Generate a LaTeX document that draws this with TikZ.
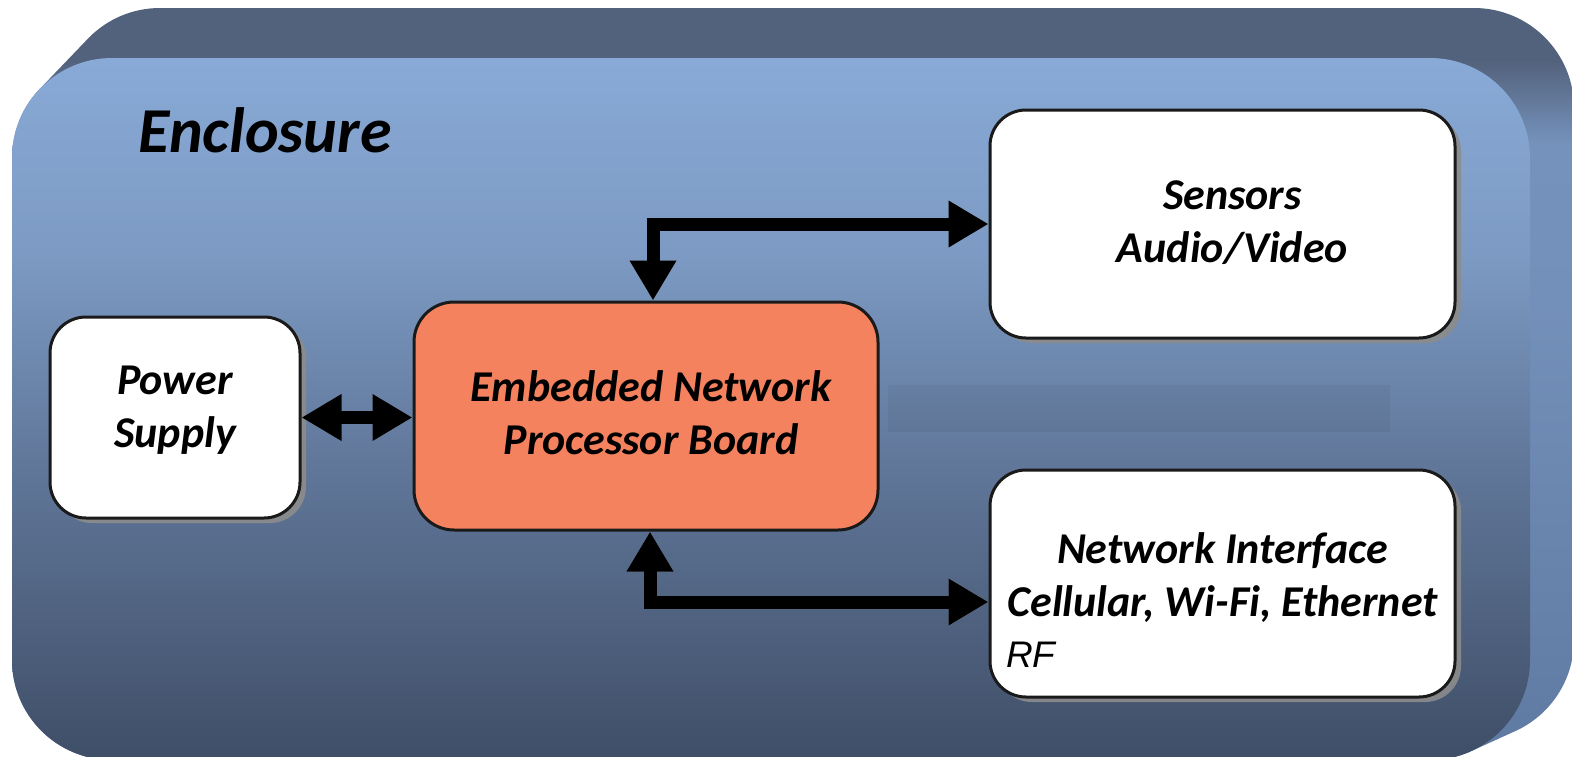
\documentclass[tikz,border=0pt]{standalone}
\usepackage{fontspec}
\setmainfont{Carlito}
\newfontfamily\arialfont{Liberation Sans}
\usetikzlibrary{arrows.meta,calc,shadows}
\definecolor{topDark}{HTML}{53627C}
\definecolor{sideTop}{HTML}{7592BC}
\definecolor{sideMid}{HTML}{7390BA}
\definecolor{sideBot}{HTML}{5F7AA2}
\definecolor{frTop}{HTML}{89AAD7}
\definecolor{frUp}{HTML}{7C9AC3}
\definecolor{frMid}{HTML}{62799C}
\definecolor{frBot}{HTML}{3F4E67}
\definecolor{salmon}{HTML}{F5825F}
\definecolor{edge}{HTML}{1A1A1A}
\pgfdeclareverticalshading{encback}{100bp}{color(0bp)=(sideBot); color(25bp)=(sideBot); color(55bp)=(sideMid); color(66bp)=(sideTop); color(71.5bp)=(topDark); color(100bp)=(topDark)}
\pgfdeclareverticalshading{encfront}{100bp}{color(0bp)=(frBot); color(25bp)=(frBot); color(47bp)=(frMid); color(61bp)=(frUp); color(75bp)=(frTop); color(100bp)=(frTop)}
\tikzset{
  wbox/.style={draw=edge, line width=3pt, fill=white, rounded corners=36pt,
    drop shadow={shadow xshift=6pt, shadow yshift=-5pt, fill=black!45, opacity=0.9}},
  obox/.style={draw=edge, line width=3pt, fill=salmon, rounded corners=40pt},
  boxtext/.style={align=center, font=\bfseries\itshape\fontsize{44}{53}\selectfont, inner sep=0pt},
  arr/.style={line width=13pt, {Triangle[width=44pt,length=40pt]}-{Triangle[width=44pt,length=40pt]}},
  arrshadow/.style={arr, draw=black!45, opacity=0.8, shift={(5pt,-5pt)}}
}
\begin{document}
\begin{tikzpicture}[x=1pt,y=-1pt]
\useasboundingbox (0,0) rectangle (1572,756);
\fill[white] (0,0) rectangle (1572,756);
% enclosure solid
\shade[shading=encback, rounded corners=100pt]
  \foreach \i [evaluate=\i as \t using \i/25] in {0,...,25} {
    ({12+48*\t},{58-50*\t}) rectangle ({1530+44*\t},{760-20*\t})
  };
\shade[shading=encfront, rounded corners=100pt] (12,58) rectangle (1530,760);
\fill[black, opacity=0.045] (888,385) rectangle (1390,432);
\node[anchor=base west, inner sep=0pt, font=\bfseries\itshape\fontsize{64}{76}\selectfont] (encl) at (138,152) {Enclosure};
% boxes
\node[wbox, minimum width=250pt, minimum height=201pt] (power) at (175,417.5) {};
\node[obox, minimum width=464pt, minimum height=228pt] (board) at (646,416) {};
\node[wbox, minimum width=465pt, minimum height=228pt] (sensors) at (1222.5,224) {};
\node[wbox, minimum width=465pt, minimum height=227pt] (network) at (1222.5,583.5) {};
% texts
\node[boxtext] (powertext) at ($(power)+(0,-7)$) {Power\\Supply};
\node[boxtext] (boardtext) at ($(board)+(5,-3)$) {Embedded Network\\Processor Board};
\node[boxtext] (sensorstext) at ($(sensors)+(10,-1)$) {Sensors\\Audio/Video};
\node[boxtext] (networktext) at ($(network)+(0,-6)$) {Network Interface\\Cellular, Wi-Fi, Ethernet};
\node[anchor=west, inner sep=0pt, font=\arialfont\itshape\fontsize{37}{44}\selectfont] (rf) at (1006,655) {RF};
% connectors (shadows)
\draw[arrshadow] (power.east) -- (power.east -| board.west);
\draw[arrshadow] (sensors.west) -| ($(board.north)+(7,0)$);
\draw[arrshadow] ($(network.west)+(0,18.5)$) -| ($(board.south)+(4,0)$);
% connectors
\draw[arr] (power.east) -- (power.east -| board.west);
\draw[arr] (sensors.west) -| ($(board.north)+(7,0)$);
\draw[arr] ($(network.west)+(0,18.5)$) -| ($(board.south)+(4,0)$);
\end{tikzpicture}
\end{document}
